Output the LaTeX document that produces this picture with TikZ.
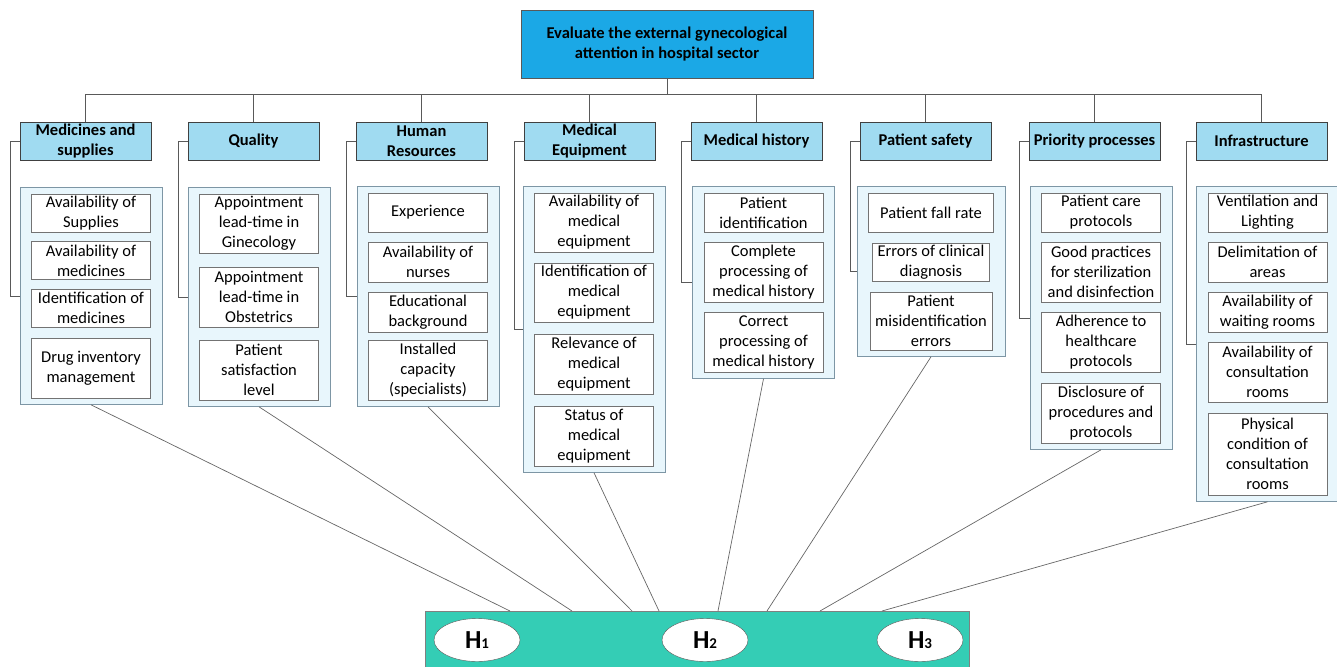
\documentclass[tikz,border=0pt]{standalone}
\usepackage{fontspec}
\setmainfont{Carlito}
\usetikzlibrary{shapes.geometric,fit,backgrounds}
\definecolor{goalblue}{RGB}{27,168,230}
\definecolor{headblue}{RGB}{160,219,241}
\definecolor{panelblue}{RGB}{232,246,252}
\definecolor{panelline}{RGB}{125,150,165}
\definecolor{hypteal}{RGB}{52,205,181}
\begin{document}
\begin{tikzpicture}[x=1pt,y=-1pt,
	font=\fontsize{16.5}{20}\selectfont,
	goal/.style={draw=black!65,fill=goalblue,align=center,font=\fontsize{16.5}{19.5}\selectfont\bfseries,minimum width=292pt,minimum height=68pt},
	head/.style={draw=black!75,line width=0.9pt,fill=headblue,align=center,font=\fontsize{16.5}{20}\selectfont\bfseries,minimum width=131pt,minimum height=38pt,inner sep=1pt},
	item/.style={draw=black!55,line width=0.8pt,fill=white,align=center,minimum width=119pt,inner sep=1pt},
	panel/.style={draw=panelline,line width=0.8pt,fill=panelblue,inner xsep=11pt,inner ysep=6pt},
	link/.style={draw=black!65,line width=0.9pt},
	spoke/.style={draw=black!60,line width=0.7pt},
	hypbox/.style={draw=black!50,fill=hypteal,minimum width=544pt,minimum height=57pt},
	hypell/.style={ellipse,draw=black!65,fill=white,minimum width=86pt,minimum height=43pt,inner sep=0pt,font=\fontsize{26}{26}\selectfont\bfseries}]
	\useasboundingbox (0,0) rectangle (1337,666);
	% goal and criteria
	\node[goal] (goal) at (667,44) {Evaluate the external gynecological\\attention in hospital sector};
	\node[head] (med)  at (85.5,141)   {Medicines and\\supplies};
	\node[head] (qua)  at (253.5,141)  {Quality};
	\node[head] (hr)   at (421.5,141)  {Human\\Resources};
	\node[head] (eq)   at (589.5,141)  {Medical\\Equipment};
	\node[head] (hist) at (756.5,141)  {Medical history};
	\node[head] (saf)  at (925.5,141)  {Patient safety};
	\node[head] (pri)  at (1094.5,141) {Priority processes};
	\node[head] (inf)  at (1261.5,141) {Infrastructure};
	% sub-criteria
	\node[item,minimum height=38pt] (med1) at (91,213)   {Availability of\\Supplies};
	\node[item,minimum height=38pt] (med2) at (91,260.5) {Availability of\\medicines};
	\node[item,minimum height=38pt] (med3) at (91,308)   {Identification of\\medicines};
	\node[item,minimum height=60pt] (med4) at (91,368)   {Drug inventory\\management};
	\node[item,minimum height=59pt] (qua1) at (259,223.5) {Appointment\\lead-time in\\Ginecology};
	\node[item,minimum height=60pt] (qua2) at (259,297)   {Appointment\\lead-time in\\Obstetrics};
	\node[item,minimum height=60pt] (qua3) at (259,370)   {Patient\\satisfaction\\level};
	\node[item,minimum height=39pt] (hr1) at (428,212.5) {Experience};
	\node[item,minimum height=40pt] (hr2) at (428,262)   {Availability of\\nurses};
	\node[item,minimum height=40pt] (hr3) at (428,312)   {Educational\\background};
	\node[item,minimum height=60pt] (hr4) at (428,370)   {Installed\\capacity\\(specialists)};
	\node[item,minimum height=59pt] (eq1) at (594,222.5) {Availability of\\medical\\equipment};
	\node[item,minimum height=59pt] (eq2) at (594,292.5) {Identification of\\medical\\equipment};
	\node[item,minimum height=60pt] (eq3) at (594,364)   {Relevance of\\medical\\equipment};
	\node[item,minimum height=60pt] (eq4) at (594,436)   {Status of\\medical\\equipment};
	\node[item,minimum height=39pt] (hist1) at (763.5,212.5) {Patient\\identification};
	\node[item,minimum height=60pt] (hist2) at (763.5,272)   {Complete\\processing of\\medical history};
	\node[item,minimum height=60pt] (hist3) at (763.5,342)   {Correct\\processing of\\medical history};
	\node[item,minimum height=39pt,minimum width=125pt] (saf1) at (931,212.5) {Patient fall rate};
	\node[item,minimum height=38pt,minimum width=117pt] (saf2) at (931,262)   {Errors of clinical\\diagnosis};
	\node[item,minimum height=58pt,minimum width=122pt] (saf3) at (931,321)   {Patient\\misidentification\\errors};
	\node[item,minimum height=39pt] (pri1) at (1101,212.5) {Patient care\\protocols};
	\node[item,minimum height=60pt] (pri2) at (1101,272)   {Good practices\\for sterilization\\and disinfection};
	\node[item,minimum height=60pt] (pri3) at (1101,342)   {Adherence to\\healthcare\\protocols};
	\node[item,minimum height=60pt] (pri4) at (1101,413)   {Disclosure of\\procedures and\\protocols};
	\node[item,minimum height=39pt] (inf1) at (1267.5,212.5) {Ventilation and\\Lighting};
	\node[item,minimum height=40pt] (inf2) at (1267.5,262)   {Delimitation of\\areas};
	\node[item,minimum height=40pt] (inf3) at (1267.5,312)   {Availability of\\waiting rooms};
	\node[item,minimum height=60pt] (inf4) at (1267.5,372)   {Availability of\\consultation\\rooms};
	\node[item,minimum height=82pt] (inf5) at (1267.5,454)   {Physical\\condition of\\consultation\\rooms};
	% panels behind the sub-criteria
	\begin{scope}[on background layer]
		\node[panel,fit=(med1)(med4)]  (medgrp)  {};
		\node[panel,fit=(qua1)(qua3)]  (quagrp)  {};
		\node[panel,fit=(hr1)(hr4)]    (hrgrp)   {};
		\node[panel,fit=(eq1)(eq4)]    (eqgrp)   {};
		\node[panel,fit=(hist1)(hist3)] (histgrp) {};
		\node[panel,fit=(saf1)(saf3)]  (safgrp)  {};
		\node[panel,fit=(pri1)(pri4)]  (prigrp)  {};
		\node[panel,fit=(inf1)(inf5)]  (infgrp)  {};
	\end{scope}
	% hypotheses
	\node[hypbox] (hyp) at (697,639.5) {};
	\node[hypell] (H1) at (477,640) {H{\fontsize{15}{15}\selectfont 1}};
	\node[hypell] (H2) at (705,640) {H{\fontsize{15}{15}\selectfont 2}};
	\node[hypell] (H3) at (920,640) {H{\fontsize{15}{15}\selectfont 3}};
	\coordinate (medend)  at (510,611);
	\coordinate (quaend)  at (572,611);
	\coordinate (hrend)   at (632,611);
	\coordinate (eqend)   at (659,611);
	\coordinate (histend) at (718,611);
	\coordinate (safend)  at (767,611);
	\coordinate (priend)  at (820,611);
	\coordinate (infend)  at (882,611);
	% connectors
	\foreach \n in {med,qua,hr,eq,hist,saf,pri,inf}{
		\draw[link] (goal.south) -- ++(0,16) -| (\n.north);
		\draw[link] (\n.west) -- ++(-9,0) |- (\n grp.west);
		\draw[spoke] (\n grp.south) -- (\n end);
	}
\end{tikzpicture}
\end{document}
